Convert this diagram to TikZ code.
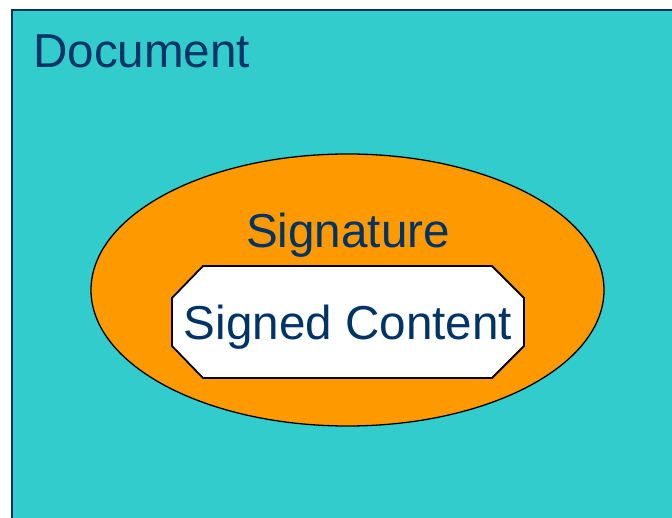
\documentclass[tikz,border=0pt]{standalone}
\usepackage{fontspec}
\setmainfont{Liberation Sans}
\definecolor{docfill}{HTML}{33CCCC}
\definecolor{sigfill}{HTML}{FF9900}
\definecolor{navy}{HTML}{003366}
\begin{document}
\begin{tikzpicture}[x=1pt,y=-1pt,
  label/.style={inner sep=0pt,text=navy,font=\fontsize{47.6}{50}\selectfont}]
\useasboundingbox (0,0) rectangle (672,518);
\clip (0,0) rectangle (672,518);
% outer document box
\draw[navy,line width=2pt,fill=docfill] (12,10) rectangle (690,540);
\node[label,anchor=base west] (doc) at (33,68) {Document};
% signature ellipse
\draw[black,line width=1.3pt,fill=sigfill] (347.5,290) ellipse [x radius=256.5,y radius=136];
\node[label,anchor=base] (sig) at (348,248) {Signature};
% signed content octagon
\draw[black,line width=1.8pt,fill=white]
  (203,266) -- (492,266) -- (524,298) -- (524,346) -- (492,378)
  -- (203,378) -- (172,346) -- (172,298) -- cycle;
\node[label,anchor=base] (content) at (348,340) {Signed Content};
\end{tikzpicture}
\end{document}
